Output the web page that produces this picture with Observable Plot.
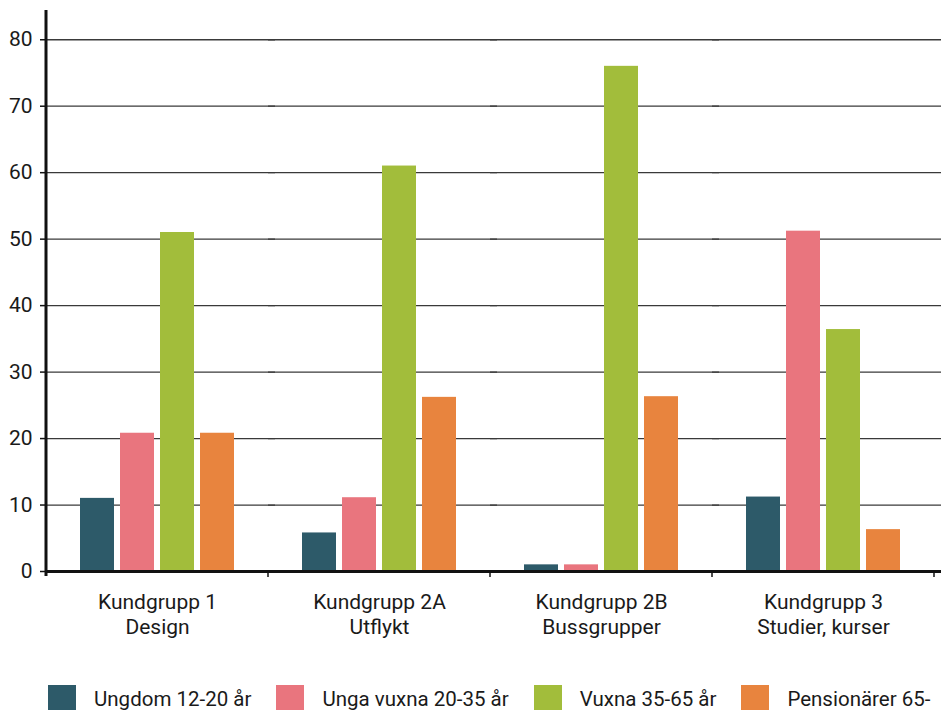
<!DOCTYPE html>
<html><head><meta charset="utf-8">
<script src="https://cdn.jsdelivr.net/npm/d3@7"></script>
<script src="https://cdn.jsdelivr.net/npm/@observablehq/plot@0.6"></script>
<style>
body{margin:0;background:#fff;font-family:Roboto,sans-serif;}
#legend{display:flex;gap:25px;padding-left:48px;padding-top:25px;}
.item{display:flex;align-items:flex-start;font-size:20.5px;line-height:28px;color:#1a1a1a;white-space:nowrap}
.sw{width:28px;height:28px;margin-right:18px;flex:none}
</style></head><body><div id="chart"></div><div id="legend"></div>
<script>
const groups = ["Kundgrupp 1\nDesign", "Kundgrupp 2A\nUtflykt", "Kundgrupp 2B\nBussgrupper", "Kundgrupp 3\nStudier, kurser"];
const series = ["Ungdom 12-20 år", "Unga vuxna 20-35 år", "Vuxna 35-65 år", "Pensionärer 65-"];
const ungdom = [11, 5.8, 1, 11.2];
const ungaVuxna = [20.8, 11.1, 1, 51.2];
const vuxna = [51, 61, 76, 36.4];
const pensionarer = [20.8, 26.2, 26.3, 6.3];
const colors = ["#2d5a69", "#e9757e", "#a2bd3b", "#e8843e"];
const yTicks = [0, 10, 20, 30, 40, 50, 60, 70, 80];
const yMax = 84.4;

const valuesBySeries = [ungdom, ungaVuxna, vuxna, pensionarer];
const data = [];
groups.forEach((g, gi) => series.forEach((s, si) => data.push({group: g, series: s, value: valuesBySeries[si][gi]})));

const chart = Plot.plot({
  width: 941, height: 660,
  marginLeft: 46, marginRight: 7, marginTop: 10, marginBottom: 89,
  style: {fontFamily: "Roboto, sans-serif", color: "#1a1a1a", background: "#fff"},
  fx: {domain: groups, paddingInner: 0, paddingOuter: 0, label: null},
  x: {domain: series, paddingInner: 0.15, paddingOuter: 0.85, axis: null},
  y: {domain: [0, yMax], label: null},
  color: {domain: series, range: colors},
  marks: [
    Plot.ruleY(yTicks.filter(d => d > 0), {stroke: "#3a3a3a", strokeWidth: 1.3, insetRight: -7}),
    Plot.barY(data, {fx: "group", x: "series", y: "value", fill: "series", inset: 0}),
    Plot.ruleY([0], {stroke: "#111", strokeWidth: 3, insetRight: -7}),
    Plot.axisY({ticks: yTicks, tickSize: 6, tickPadding: 8, fontSize: 21, label: null, strokeWidth: 1.5, stroke: "#111"}),
    Plot.axisFx({anchor: "bottom", tickSize: 0, tickPadding: 20, fontSize: 21, lineHeight: 1.19, label: null})
  ]
});
document.getElementById("chart").appendChild(chart);

// axis line and group boundary ticks, positioned through Plot's own scales
const fx = chart.scale("fx"), y = chart.scale("y");
const svg = d3.select(chart);
const y0 = y.apply(0), yTop = y.apply(yMax);
const left = fx.apply(groups[0]);
svg.append("line").attr("x1", left).attr("x2", left).attr("y1", yTop).attr("y2", y0 + 5)
  .attr("stroke", "#111").attr("stroke-width", 3);
groups.forEach(g => {
  const xr = fx.apply(g) + fx.bandwidth;
  svg.append("line").attr("x1", xr).attr("x2", xr).attr("y1", y0).attr("y2", y0 + 6)
    .attr("stroke", "#111").attr("stroke-width", 1.5);
});

const legend = d3.select("#legend");
series.forEach((s, i) => {
  const it = legend.append("div").attr("class", "item");
  it.append("div").attr("class", "sw").style("background", colors[i]);
  it.append("span").text(s);
});
</script></body></html>
